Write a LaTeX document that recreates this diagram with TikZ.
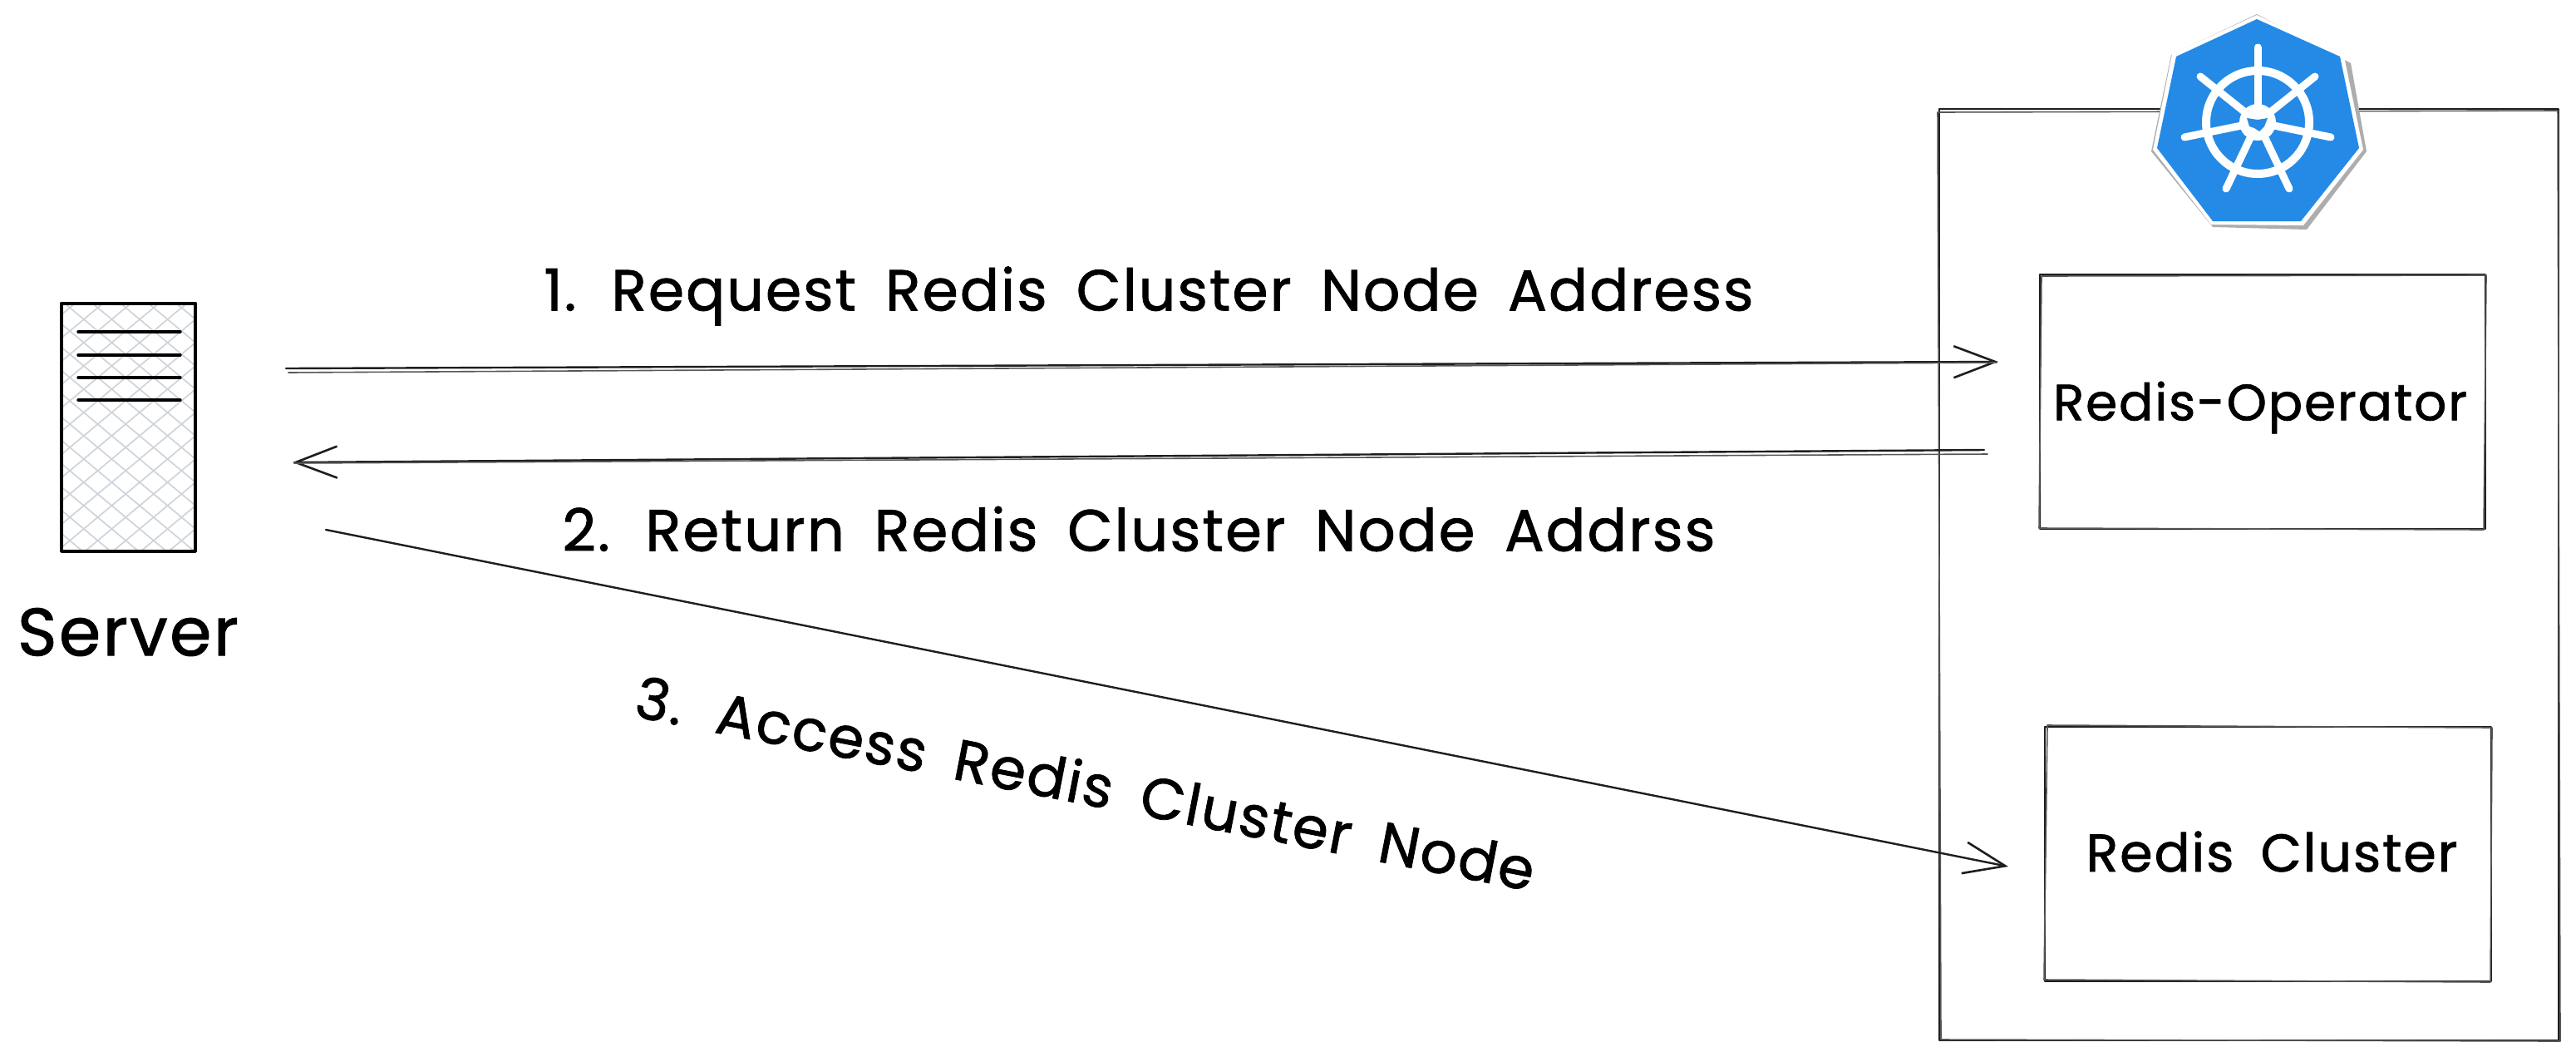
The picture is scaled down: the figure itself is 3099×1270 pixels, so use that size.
\documentclass[tikz,border=0pt]{standalone}
\usepackage{fontspec}
\usepackage{graphicx}
\setmainfont{Poppins}
\newfontfamily\handf{Poppins}[LetterSpace=3,WordSpace=1.7,FakeBold=1.2]
\usetikzlibrary{arrows.meta}
\definecolor{kblue}{HTML}{248AE6}
\definecolor{hatchc}{HTML}{CED4DA}
\definecolor{ink}{HTML}{1E1E1E}
\newcommand{\handtext}[2]{\resizebox{#1pt}{!}{\handf\fontsize{60}{60}\selectfont #2}}
\tikzset{
  x=1pt,y=-1pt,
  sketch/.style={draw=ink,line width=2.4pt,line cap=round,line join=round},
  sketchthin/.style={draw=ink!75,line width=1.6pt,line cap=round,line join=round},
  hand/.style={inner sep=0pt,outer sep=0pt,text=black,anchor=center},
  barb/.style={-{Straight Barb[length=50pt,width=38pt,line width=2.6pt]}},
  hatch/.style={draw=hatchc,line width=1.7pt},
  spoke/.style={draw=white,line width=9pt,line cap=round},
  boxnode/.style={rectangle,inner sep=0pt,outer sep=0pt,anchor=north west,sketch,fill=none},
}
\begin{document}
\begin{tikzpicture}
\useasboundingbox (0,0) rectangle (3099,1270);
\fill[white] (0,0) rectangle (3099,1270);

% cluster frame
\node[boxnode,minimum width=745pt,minimum height=1120pt] (frame) at (2333,131) {};
\draw[sketchthin] (2331,135) -- (3077,133) -- (3080,1252) -- (2335,1250) -- cycle;

% inner boxes
\node[boxnode,minimum width=536pt,minimum height=306pt] (operator) at (2454,330) {};
\draw[sketchthin] (2456,332) -- (2991,331) -- (2988,637) -- (2453,635) -- cycle;
\node[boxnode,minimum width=537pt,minimum height=306pt] (cluster) at (2460,874) {};
\draw[sketchthin] (2463,872) -- (2998,875) -- (2996,1181) -- (2459,1178) -- cycle;

% server
\node[boxnode,line width=3.4pt,draw=black,minimum width=161pt,minimum height=298pt] (server) at (74,365) {};
\begin{scope}
  \clip (74,365) rectangle (235,663);
  \foreach \k in {-20,...,30} {
    \draw[hatch] (0,{300+\k*28}) -- (300,{300+\k*28+250});
    \draw[hatch] (0,{300+\k*28}) -- (300,{300+\k*28-250});
  }
\end{scope}
\node[boxnode,line width=3.4pt,draw=black,minimum width=161pt,minimum height=298pt] at (74,365) {};
\foreach \yy/\nm in {399/a,427/b,454/c,481/d} {
  \coordinate (l\nm) at (94,\yy);
  \coordinate (r\nm) at (217,\yy);
  \draw[draw=black,line width=3.4pt,line cap=round] (l\nm) -- (r\nm);
}

% connector end points
\coordinate (a1s) at (344,443);
\coordinate (a1e) at (2404,435);
\coordinate (a1s2) at (347,448);
\coordinate (a1e2) at (2402,436);
\coordinate (a2s) at (2387,541);
\coordinate (a2e) at (352,556);
\coordinate (a2s2) at (2391,546);
\coordinate (a2e2) at (354,557);
\coordinate (a3s) at (392,637);
\coordinate (a3e) at (2416,1042);

\draw[sketch,barb] (a1s) -- (a1e);
\draw[sketchthin] (a1s2) -- (a1e2);
\draw[sketch,barb] (a2s) -- (a2e);
\draw[sketchthin] (a2s2) -- (a2e2);
\draw[sketch,barb] (a3s) -- (a3e);

% labels
\node[hand] (t1) at (1382,356) {\handtext{1455}{1. Request Redis Cluster Node Address}};
\node[hand] (t2) at (1370,636) {\handtext{1387}{2. Return Redis Cluster Node Addrss}};
\node[hand,rotate=-11] (t3) at (1306,941) {\handtext{1100}{3. Access Redis Cluster Node}};
\node[hand] (t4) at (2719,490) {\handtext{498}{Redis-Operator}};
\node[hand] (t5) at (2733,1024) {\handtext{447}{Redis Cluster}};
\node[hand] (t6) at (154,760) {\handtext{266}{Server}};

% kubernetes logo
\fill[black!32] (2715,17) -- (2828,76) -- (2847,182) -- (2775,276) -- (2662,273) -- (2588,182) -- (2612,66) -- cycle;
\fill[white] (2715,18) -- (2820,68) -- (2843,180) -- (2771,271) -- (2660,270) -- (2590,180) -- (2613,65) -- cycle;
\fill[kblue] (2715,23) -- (2815,68) -- (2838,178) -- (2768,266) -- (2662,266) -- (2595,178) -- (2618,68) -- cycle;
\coordinate (hub) at (2716,147);
\draw[draw=white,line width=10pt] (hub) circle (62);
\foreach \tx/\ty in {2716/57,2647/92,2785/92,2628/165,2804/165,2678/227,2754/227} {
  \draw[spoke] (hub) -- (\tx,\ty);
}
\fill[white] (hub) circle (22);
\fill[kblue] (2703,142) -- (2716,144) -- (2728,142) -- (2724,152) -- (2718,158) -- (2712,154) -- (2706,152) -- cycle;
\end{tikzpicture}
\end{document}
